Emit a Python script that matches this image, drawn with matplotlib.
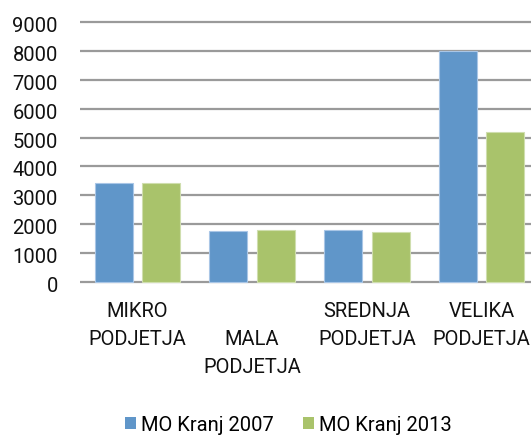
import matplotlib
matplotlib.use("Agg")
import matplotlib.pyplot as plt
from matplotlib.patches import Patch
import matplotlib.transforms as mtrans
import numpy as np

categories = ["MIKRO\nPODJETJA", "MALA\nPODJETJA", "SREDNJA\nPODJETJA", "VELIKA\nPODJETJA"]
label_rows = [0, 1, 0, 0]
series_names = ["MO Kranj 2007", "MO Kranj 2013"]
values_2007 = [3430, 1770, 1805, 8000]
values_2013 = [3430, 1795, 1725, 5180]
yticks = [0, 1000, 2000, 3000, 4000, 5000, 6000, 7000, 8000, 9000]

blue = "#6096C9"
green = "#A9C36B"
font = "Roboto"
fs = 14.5

W, H = 531, 436
fig = plt.figure(figsize=(W / 100, H / 100), dpi=100)
plt.rcParams['font.family'] = [font, 'DejaVu Sans']

ppu = 260.6 / 9000.0
ymin, ymax = -100, 9200
bottom_px = 282.3 + (0 - ymin) * ppu
height_px = (ymax - ymin) * ppu
left_px, right_px = 80, 539
ax = fig.add_axes([left_px / W, (H - bottom_px) / H, (right_px - left_px) / W, height_px / H])

x = np.arange(len(categories))
bw = 0.33
off = 0.207
ax.bar(x - off, values_2007, bw, color=blue, edgecolor="#A9C6E6", linewidth=0.8, zorder=3)
ax.bar(x + off, values_2013, bw, color=green, edgecolor="#CFDEAE", linewidth=0.8, zorder=3)

ax.set_xlim(-0.5, len(categories) - 0.5)
ax.set_ylim(ymin, ymax)
ax.set_yticks(yticks)
ax.set_yticklabels([str(v) for v in yticks], fontsize=fs, color="#111111")
ax.tick_params(axis="y", length=0, pad=16)
shift = mtrans.ScaledTranslation(0, -2.5 / 100, fig.dpi_scale_trans)
for lbl in ax.get_yticklabels():
    lbl.set_transform(lbl.get_transform() + shift)
ax.grid(axis="y", color="#9A9A9A", linewidth=1.6, zorder=0)
for s in ax.spines.values():
    s.set_visible(False)

ax.set_xticks([])
tr = mtrans.blended_transform_factory(ax.transData, fig.transFigure)
pitch = 27.6
for i, lab in enumerate(categories):
    for k, line in enumerate(lab.split("\n")):
        y_px = 317.3 + pitch * (k + label_rows[i])
        ax.text(i, (H - y_px) / H, line, transform=tr, ha="center", va="baseline",
                fontsize=fs, color="#111111")

handles = [Patch(facecolor=blue), Patch(facecolor=green)]
leg = fig.legend(handles, series_names, loc="center", bbox_to_anchor=(288 / W, (H - 425) / H),
                 ncol=2, frameon=False, fontsize=fs, handlelength=0.55, handleheight=0.55,
                 handletextpad=0.25, columnspacing=1.45, borderaxespad=0, borderpad=0)

fig.savefig("out.png", dpi=100)
